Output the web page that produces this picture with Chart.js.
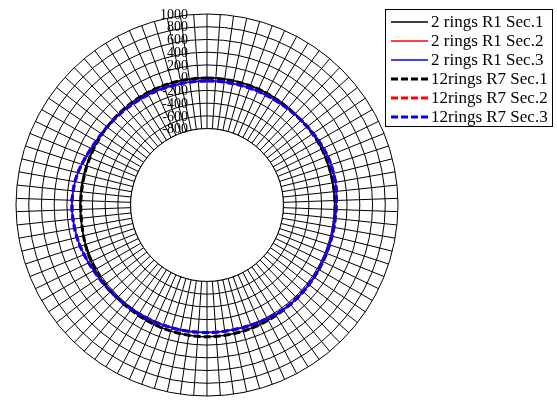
<!DOCTYPE html>
<html>
<head>
<meta charset="utf-8">
<title>Ring profile</title>
<script src="https://cdn.jsdelivr.net/npm/chart.js@4/dist/chart.umd.min.js"></script>
<style>
  html, body { margin: 0; padding: 0; background: #fff; }
  #wrap { width: 557px; height: 401px; }
</style>
</head>
<body>
<div id="wrap"><canvas id="chart" width="557" height="401"></canvas></div>
<script>
// Measurement angles (degrees, clockwise from top)
const angles = [
  0, 4, 8, 12, 16, 20, 24, 28, 32, 36,
  40, 44, 48, 52, 56, 60, 64, 68, 72, 76,
  80, 84, 88, 92, 96, 100, 104, 108, 112, 116,
  120, 124, 128, 132, 136, 140, 144, 148, 152, 156,
  160, 164, 168, 172, 176, 180, 184, 188, 192, 196,
  200, 204, 208, 212, 216, 220, 224, 228, 232, 236,
  240, 244, 248, 252, 256, 260, 264, 268, 272, 276,
  280, 284, 288, 292, 296, 300, 304, 308, 312, 316,
  320, 324, 328, 332, 336, 340, 344, 348, 352, 356
];

// Radial axis
const axisMin = -2000;
const axisMax = 1000;
const axisStep = 200;
const innerLimit = -800;
const radialTicks = [1000, 800, 600, 400, 200, 0, -200, -400, -600, -800];

// Series
const seriesNames = [
  '2 rings R1 Sec.1', '2 rings R1 Sec.2', '2 rings R1 Sec.3',
  '12rings R7 Sec.1', '12rings R7 Sec.2', '12rings R7 Sec.3'
];

const r1Sec1 = [
  -4, -5, -6, -6, -7, -8, -9, -10, -11, -13,
  -14, -13, -10, -5, 0, 4, 6, 7, 8, 8,
  9, 10, 11, 13, 15, 17, 19, 21, 23, 25,
  27, 29, 31, 33, 35, 37, 41, 45, 49, 53,
  57, 61, 64, 66, 68, 69, 69, 67, 64, 61,
  57, 52, 46, 41, 36, 33, 31, 30, 29, 29,
  27, 23, 17, 9, 1, -7, -12, -15, -17, -17,
  -17, -16, -15, -14, -13, -11, -10, -8, -7, -6,
  -5, -4, -3, -3, -2, -3, -3, -3, -4, -4
];
const r1Sec2 = [
  -50, -50, -49, -48, -46, -44, -42, -39, -35, -30,
  -24, -17, -8, 2, 13, 25, 35, 44, 49, 50,
  49, 43, 35, 29, 26, 25, 25, 25, 26, 27,
  28, 29, 31, 33, 34, 35, 33, 28, 21, 15,
  10, 6, 3, 2, 2, 3, 4, 5, 6, 7,
  8, 10, 13, 16, 20, 25, 29, 35, 41, 48,
  56, 69, 82, 95, 105, 111, 117, 122, 122, 115,
  106, 90, 69, 45, 25, 10, 1, -7, -14, -20,
  -25, -29, -33, -37, -41, -44, -47, -48, -49, -50
];
const r1Sec3 = [
  -49, -50, -49, -48, -46, -44, -42, -39, -35, -30,
  -24, -17, -8, 2, 13, 25, 35, 44, 49, 50,
  49, 43, 35, 29, 26, 25, 24, 25, 26, 27,
  28, 29, 31, 33, 34, 35, 33, 28, 21, 15,
  10, 6, 3, 2, 2, 3, 4, 5, 6, 7,
  8, 10, 13, 16, 20, 25, 29, 35, 41, 48,
  56, 69, 82, 95, 105, 112, 117, 122, 122, 115,
  106, 90, 69, 45, 25, 10, 1, -7, -14, -20,
  -25, -29, -33, -37, -41, -44, -47, -48, -49, -50
];
const r7Sec1 = [
  -5, -6, -6, -7, -8, -8, -9, -10, -12, -14,
  -15, -14, -11, -6, 0, 5, 7, 8, 8, 8,
  8, 10, 12, 13, 16, 18, 19, 21, 23, 26,
  28, 30, 31, 33, 35, 38, 42, 46, 50, 54,
  58, 62, 64, 67, 69, 70, 69, 67, 64, 60,
  56, 51, 45, 40, 35, 32, 31, 30, 30, 29,
  28, 24, 18, 10, 1, -8, -13, -16, -17, -18,
  -18, -17, -16, -15, -13, -12, -10, -9, -7, -6,
  -5, -4, -3, -3, -3, -3, -3, -4, -4, -5
];
const r7Sec2 = [
  -51, -51, -50, -49, -47, -45, -43, -40, -36, -31,
  -25, -18, -9, 1, 12, 24, 35, 44, 49, 50,
  49, 43, 35, 29, 26, 25, 25, 25, 26, 27,
  28, 30, 31, 33, 34, 35, 33, 29, 22, 16,
  10, 6, 3, 2, 3, 3, 4, 5, 6, 7,
  8, 10, 13, 17, 21, 25, 30, 35, 41, 48,
  56, 69, 82, 95, 105, 111, 117, 121, 121, 115,
  107, 91, 70, 46, 26, 10, 0, -8, -15, -20,
  -25, -29, -33, -37, -41, -45, -47, -49, -50, -51
];
const r7Sec3 = [
  -50, -50, -50, -49, -47, -45, -42, -40, -36, -31,
  -25, -18, -9, 1, 12, 25, 36, 45, 50, 51,
  50, 44, 35, 29, 26, 25, 25, 25, 26, 27,
  28, 30, 31, 33, 35, 36, 34, 29, 22, 16,
  10, 6, 3, 2, 3, 4, 4, 5, 6, 7,
  8, 10, 13, 17, 21, 25, 30, 35, 42, 49,
  57, 70, 83, 96, 106, 112, 118, 123, 123, 116,
  108, 92, 70, 46, 26, 10, 0, -8, -15, -20,
  -25, -29, -33, -37, -41, -45, -47, -49, -50, -50
];

const seriesValues = [r1Sec1, r1Sec2, r1Sec3, r7Sec1, r7Sec2, r7Sec3];
const seriesColors = ['#000000', '#ff0000', '#0000ff', '#000000', '#ff0000', '#0000ff'];
const seriesDashed = [false, false, false, true, true, true];

const serifFont = '"Liberation Serif", "Times New Roman", serif';
const dashPattern = [7, 3];

const datasets = seriesValues.map((vals, i) => ({
  label: seriesNames[i],
  data: vals,
  borderColor: seriesColors[i],
  backgroundColor: 'transparent',
  borderWidth: seriesDashed[i] ? 3 : 1.5,
  borderDash: seriesDashed[i] ? dashPattern : [],
  pointRadius: 0,
  pointHoverRadius: 0,
  fill: false,
  tension: 0,
  order: seriesValues.length - 1 - i
}));

// Blank hub inside the innermost ring, value labels along the top axis, boxed legend
const ringDecor = {
  id: 'ringDecor',
  beforeDatasetsDraw(chart) {
    const s = chart.scales.r;
    const ctx = chart.ctx;
    const rIn = s.getDistanceFromCenterForValue(innerLimit);
    ctx.save();
    ctx.beginPath();
    ctx.arc(s.xCenter, s.yCenter, rIn, 0, Math.PI * 2);
    ctx.fillStyle = '#ffffff';
    ctx.fill();
    ctx.lineWidth = 1;
    ctx.strokeStyle = '#000000';
    ctx.stroke();

    ctx.font = '14px ' + serifFont;
    ctx.textAlign = 'right';
    ctx.textBaseline = 'middle';
    ctx.fillStyle = '#000000';
    radialTicks.forEach(v => {
      const d = s.getDistanceFromCenterForValue(v);
      ctx.fillText(String(v), s.xCenter - 19, s.yCenter - d + 1);
    });
    ctx.restore();
  },
  afterDraw(chart) {
    const ctx = chart.ctx;
    const box = { x: 385.5, y: 9.5, w: 167, h: 117 };
    ctx.save();
    ctx.fillStyle = '#ffffff';
    ctx.fillRect(box.x, box.y, box.w, box.h);
    ctx.lineWidth = 1;
    ctx.strokeStyle = '#000000';
    ctx.strokeRect(box.x, box.y, box.w, box.h);
    ctx.font = '17px ' + serifFont;
    ctx.textAlign = 'left';
    ctx.textBaseline = 'middle';
    chart.data.datasets.forEach((ds, i) => {
      const y = 22 + i * 19;
      ctx.beginPath();
      ctx.lineWidth = ds.borderWidth;
      ctx.strokeStyle = ds.borderColor;
      ctx.setLineDash(ds.borderDash || []);
      ctx.moveTo(391, y);
      ctx.lineTo(428, y);
      ctx.stroke();
      ctx.setLineDash([]);
      ctx.fillStyle = '#000000';
      ctx.fillText(ds.label, 431, y + 1);
    });
    ctx.restore();
  }
};

new Chart(document.getElementById('chart'), {
  type: 'radar',
  data: { labels: angles, datasets },
  options: {
    responsive: false,
    animation: false,
    devicePixelRatio: 1,
    layout: { padding: { left: 16, right: 159, top: 14, bottom: 5 } },
    plugins: {
      legend: { display: false },
      tooltip: { enabled: false }
    },
    elements: { line: { tension: 0 } },
    scales: {
      r: {
        min: axisMin,
        max: axisMax,
        startAngle: 0,
        beginAtZero: false,
        ticks: { display: false, stepSize: axisStep },
        pointLabels: { display: false },
        angleLines: { display: true, color: '#000000', lineWidth: 1 },
        grid: {
          circular: true,
          lineWidth: 1,
          color: ctx => (ctx.tick && ctx.tick.value >= innerLimit) ? '#000000' : 'rgba(0,0,0,0)'
        }
      }
    }
  },
  plugins: [ringDecor]
});
</script>
</body>
</html>
